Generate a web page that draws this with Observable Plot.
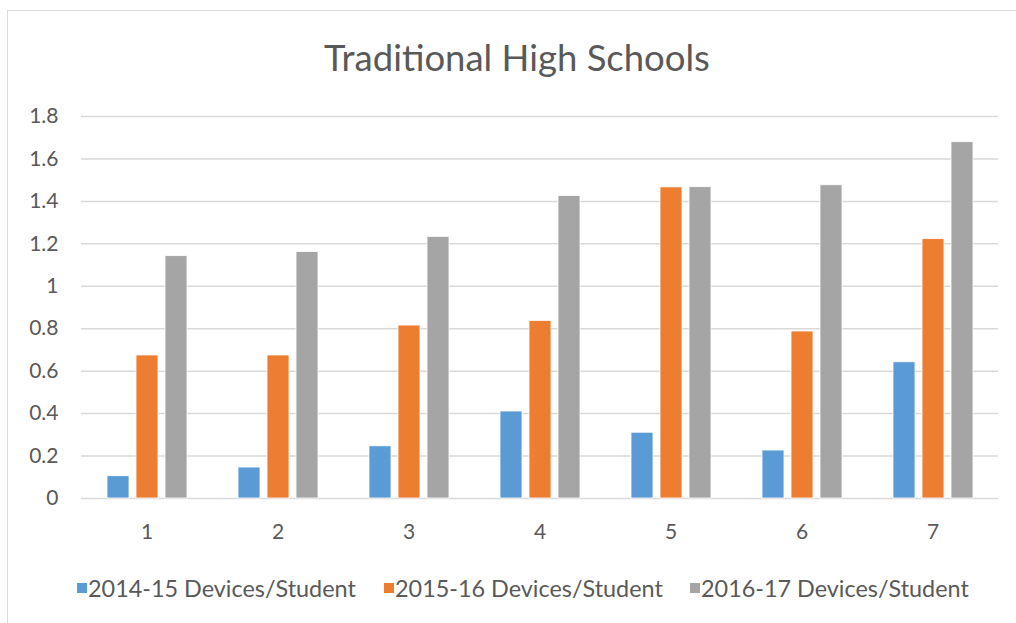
<!DOCTYPE html>
<html>
<head>
<meta charset="utf-8">
<script src="https://cdn.jsdelivr.net/npm/d3@7"></script>
<script src="https://cdn.jsdelivr.net/npm/@observablehq/plot@0.6"></script>
<style>
  html, body { margin: 0; padding: 0; background: #fff; }
  body { width: 1016px; height: 623px; position: relative; overflow: hidden;
         font-family: Lato, "Open Sans", sans-serif; }
  #frame { position: absolute; left: 7px; top: 10px; width: 1020px; height: 640px;
           border: 1.5px solid #d9d9d9; box-sizing: border-box; }
  #title { position: absolute; left: 0; width: 1034px; top: 37px; text-align: center;
           font-size: 36.5px; color: #595959; line-height: 40px; }
  #chart { position: absolute; left: 0; top: 100px; }
  #legend { position: absolute; top: 575px; left: 0; width: 1016px; height: 26px; }
  .item { position: absolute; top: 0; display: flex; align-items: center; font-size: 23.4px; color: #595959; line-height: 26px; }
  .sw { width: 10px; height: 10px; margin-right: 1px; }
</style>
</head>
<body>
<div id="frame"></div>
<div id="title">Traditional High Schools</div>
<div id="chart"></div>
<div id="legend"></div>
<script>
const schools = ["1", "2", "3", "4", "5", "6", "7"];
const seriesNames = ["2014-15 Devices/Student", "2015-16 Devices/Student", "2016-17 Devices/Student"];
const values2014 = [0.105, 0.146, 0.246, 0.41, 0.31, 0.226, 0.642];
const values2015 = [0.674, 0.674, 0.815, 0.837, 1.466, 0.787, 1.222];
const values2016 = [1.142, 1.161, 1.233, 1.425, 1.467, 1.476, 1.679];
const yTicks = [0, 0.2, 0.4, 0.6, 0.8, 1, 1.2, 1.4, 1.6, 1.8];
const colors = ["#5b9bd5", "#ed7d31", "#a5a5a5"];

const allValues = [values2014, values2015, values2016];
const data = [];
schools.forEach((s, i) => {
  seriesNames.forEach((name, j) => data.push({school: s, series: name, value: allValues[j][i]}));
});

const fontFamily = 'Lato, "Open Sans", sans-serif';
const fmt = d => String(+d.toFixed(1));

const chart = Plot.plot({
  width: 1016,
  height: 448,
  marginTop: 16,
  marginBottom: 50,
  marginLeft: 79,
  marginRight: 17,
  style: {fontFamily, fontSize: "21px", color: "#595959", background: "transparent"},
  fx: {domain: schools, padding: 0, label: null},
  x: {domain: seriesNames, paddingInner: 0.254, paddingOuter: 0.854, axis: null},
  y: {domain: [0, 1.8], ticks: yTicks, label: null, tickFormat: fmt},
  color: {domain: seriesNames, range: colors},
  marks: [
    Plot.gridY(yTicks, {stroke: "#d9d9d9", strokeOpacity: 1, strokeWidth: 1.5}),
    Plot.axisFx({tickSize: 0, tickPadding: 26, label: null, anchor: "bottom", fontSize: 21}),
    Plot.axisY({ticks: yTicks, tickSize: 0, tickPadding: 23, label: null, fontSize: 21, tickFormat: fmt}),
    Plot.barY(data, {fx: "school", x: "series", y: "value", fill: "series", stroke: "#fff", strokeWidth: 0.8, inset: 0})
  ]
});
document.getElementById("chart").appendChild(chart);

const legend = document.getElementById("legend");
const legendLefts = [77, 384, 690];
seriesNames.forEach((name, j) => {
  const item = document.createElement("div");
  item.className = "item";
  item.style.left = legendLefts[j] + "px";
  const sw = document.createElement("div");
  sw.className = "sw";
  sw.style.background = colors[j];
  item.appendChild(sw);
  const t = document.createElement("span");
  t.textContent = name;
  item.appendChild(t);
  legend.appendChild(item);
});
</script>
</body>
</html>
